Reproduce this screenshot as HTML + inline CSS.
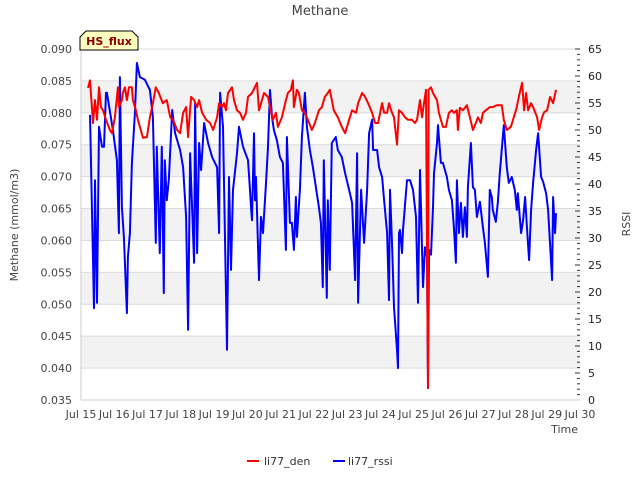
<!DOCTYPE html>
<html><head><meta charset="utf-8"><style>
body{margin:0;background:#fff;}
svg{display:block;font-family:"DejaVu Sans","Liberation Sans",sans-serif;}
</style></head><body>
<svg id="c" width="640" height="480">
<text x="320" y="15" text-anchor="middle" font-size="13" fill="#444">Methane</text>
<text transform="translate(18,225) rotate(-90)" text-anchor="middle" font-size="11" fill="#444">Methane (mmol/m3)</text>
<text transform="translate(630,224) rotate(-90)" text-anchor="middle" font-size="11" fill="#444">RSSI</text>
<text x="578" y="433" text-anchor="end" font-size="11" fill="#444">Time</text>
<g id="grid"></g>
<g id="axes"></g>
<g id="series"></g>
<g>
<path d="M86,31 L132,31 L138,37 L138,50 L80,50 L80,37 Z" fill="#ffffc0" stroke="#000" stroke-width="1"/>
<text x="109" y="45" text-anchor="middle" font-size="11" font-weight="bold" fill="#8b0000">HS_flux</text>
</g>
<g>
<g><line x1="247" y1="461" x2="259" y2="461" stroke="#f00" stroke-width="2"/><text x="264" y="465" font-size="11" fill="#333">li77_den</text></g>
<g><line x1="333" y1="461" x2="345" y2="461" stroke="#00f" stroke-width="2"/><text x="348" y="465" font-size="11" fill="#333">li77_rssi</text></g>
</g>
</svg>
<script>
const xTickLabels=["Jul 15","Jul 16","Jul 17","Jul 18","Jul 19","Jul 20","Jul 21","Jul 22","Jul 23","Jul 24","Jul 25","Jul 26","Jul 27","Jul 28","Jul 29","Jul 30"];
const yTicks=[0.035,0.040,0.045,0.050,0.055,0.060,0.065,0.070,0.075,0.080,0.085,0.090];
const y2Ticks=[0,5,10,15,20,25,30,35,40,45,50,55,60,65];
const denDays=[0.21,0.27,0.36,0.42,0.48,0.54,0.60,0.66,0.75,0.87,0.93,1.02,1.11,1.14,1.23,1.26,1.32,1.38,1.44,1.53,1.56,1.65,1.71,1.86,1.98,2.07,2.16,2.25,2.34,2.46,2.58,2.68,2.77,2.89,2.98,3.07,3.16,3.22,3.31,3.40,3.49,3.55,3.64,3.76,3.88,3.97,4.09,4.15,4.24,4.30,4.36,4.42,4.54,4.60,4.69,4.78,4.87,4.96,5.02,5.14,5.29,5.35,5.44,5.50,5.62,5.68,5.77,5.86,5.92,6.04,6.16,6.22,6.31,6.37,6.40,6.49,6.55,6.64,6.73,6.82,6.94,7.03,7.15,7.24,7.33,7.42,7.48,7.54,7.60,7.72,7.84,7.94,8.06,8.15,8.27,8.33,8.45,8.54,8.63,8.75,8.84,8.93,9.05,9.11,9.20,9.26,9.35,9.41,9.50,9.56,9.65,9.74,9.83,9.95,10.04,10.10,10.19,10.25,10.31,10.37,10.40,10.43,10.45,10.52,10.58,10.70,10.76,10.88,10.97,11.06,11.15,11.21,11.30,11.33,11.39,11.48,11.60,11.69,11.78,11.87,11.93,12.02,12.08,12.17,12.29,12.38,12.50,12.65,12.71,12.80,12.92,13.01,13.10,13.16,13.26,13.32,13.38,13.44,13.53,13.59,13.71,13.77,13.86,13.92,14.01,14.10,14.19,14.28];
const denValues=[.0839,.0851,.0784,.0820,.0789,.0840,.0809,.0804,.0789,.0773,.0768,.0793,.0840,.0809,.0820,.0831,.0840,.0820,.0840,.0840,.0820,.0804,.0789,.0761,.0762,.0793,.0815,.0840,.0831,.0815,.0820,.0793,.0789,.0773,.0768,.0800,.0809,.0762,.0825,.0820,.0809,.0820,.0800,.0789,.0784,.0773,.0793,.0815,.0809,.0815,.0804,.0831,.0840,.0820,.0804,.0800,.0789,.0800,.0825,.0831,.0847,.0804,.0820,.0831,.0825,.0809,.0789,.0800,.0778,.0793,.0820,.0831,.0836,.0851,.0809,.0836,.0831,.0804,.0800,.0789,.0773,.0784,.0804,.0809,.0825,.0831,.0836,.0820,.0804,.0793,.0778,.0768,.0789,.0804,.0800,.0815,.0831,.0825,.0815,.0800,.0784,.0784,.0815,.0800,.0800,.0815,.0800,.0793,.0750,.0804,.0800,.0793,.0789,.0789,.0784,.0789,.0820,.0793,.0815,.0836,.0585,.0369,.0836,.0840,.0831,.0820,.0800,.0778,.0778,.0800,.0804,.0800,.0804,.0773,.0808,.0804,.0812,.0793,.0773,.0784,.0793,.0784,.0800,.0804,.0809,.0809,.0812,.0812,.0789,.0773,.0778,.0793,.0809,.0825,.0847,.0804,.0831,.0804,.0815,.0809,.0793,.0773,.0793,.0801,.0804,.0825,.0815,.0836];
const rssiDays=[0.27,0.39,0.42,0.48,0.54,0.63,0.69,0.75,0.78,0.96,1.08,1.14,1.17,1.23,1.29,1.38,1.41,1.47,1.53,1.62,1.68,1.77,1.92,2.07,2.16,2.25,2.28,2.37,2.43,2.49,2.52,2.58,2.64,2.74,2.83,2.98,3.07,3.16,3.22,3.28,3.40,3.43,3.49,3.55,3.61,3.70,3.82,3.94,4.09,4.15,4.18,4.27,4.39,4.45,4.51,4.57,4.69,4.75,4.87,5.02,5.08,5.11,5.14,5.20,5.23,5.26,5.35,5.41,5.47,5.56,5.62,5.68,5.74,5.80,5.89,5.98,6.07,6.16,6.19,6.28,6.34,6.40,6.46,6.49,6.58,6.64,6.73,6.79,6.88,6.97,7.06,7.15,7.21,7.27,7.30,7.39,7.42,7.48,7.54,7.66,7.72,7.84,7.94,8.06,8.15,8.24,8.30,8.33,8.42,8.51,8.60,8.66,8.75,8.78,8.90,8.96,9.05,9.11,9.20,9.26,9.29,9.35,9.41,9.50,9.53,9.56,9.59,9.65,9.68,9.80,9.89,9.98,10.07,10.13,10.19,10.28,10.34,10.40,10.43,10.46,10.52,10.58,10.61,10.70,10.73,10.82,10.88,11.00,11.06,11.15,11.21,11.27,11.30,11.36,11.42,11.48,11.54,11.60,11.63,11.72,11.78,11.84,11.90,11.99,12.08,12.14,12.23,12.29,12.35,12.38,12.47,12.53,12.59,12.68,12.71,12.80,12.86,12.95,13.04,13.10,13.13,13.23,13.29,13.35,13.41,13.47,13.53,13.59,13.68,13.74,13.83,13.89,13.98,14.04,14.16,14.19,14.25,14.28];
const rssiValues=[52.8,17.0,40.7,18.0,50.6,46.9,46.9,56.9,56.9,50.0,44.4,30.9,59.8,35.7,30.2,16.1,26.5,30.9,43.9,53.1,62.4,59.8,59.3,57.4,52.4,29.1,46.9,27.2,46.9,19.8,44.4,37.0,40.7,53.7,49.4,46.3,43.1,33.9,13.0,45.7,25.4,55.0,27.2,47.6,42.6,51.3,47.6,45.0,43.1,30.9,56.9,50.6,9.3,41.3,24.1,38.9,45.7,50.6,46.9,44.4,38.9,35.7,33.3,49.4,37.0,41.3,22.2,33.9,30.9,40.2,46.9,57.4,52.4,50.0,48.1,45.0,43.9,27.8,48.7,32.8,32.8,27.8,37.6,30.2,38.9,48.7,56.9,50.6,46.3,43.1,39.4,35.7,32.8,20.9,44.4,18.9,37.0,24.1,47.6,48.7,46.3,45.0,42.0,38.9,36.5,22.2,45.7,18.0,38.9,29.1,38.9,49.4,51.9,46.3,46.3,43.1,41.3,37.0,30.9,18.5,38.9,29.1,17.2,9.3,5.9,30.9,31.5,27.2,31.5,40.7,40.7,38.9,33.9,18.0,42.6,20.9,28.3,26.5,2.2,27.8,26.9,35.7,42.0,47.6,50.9,43.9,43.9,41.3,38.9,37.0,32.0,25.4,40.7,30.9,36.5,30.2,35.7,30.2,39.4,47.6,39.4,38.9,33.9,36.7,32.0,29.1,22.8,38.9,37.6,35.2,33.0,36.5,42.0,48.7,50.9,43.1,40.2,41.3,38.9,35.2,38.3,30.9,33.3,37.6,31.5,25.9,35.2,40.2,46.3,49.4,41.3,40.4,38.3,35.2,22.2,37.6,30.9,34.6];

const NS="http://www.w3.org/2000/svg";
const X0=81,X1=580,Y0=49,Y1=400;
const xs=d=>X0+(X1-X0)*d/15;
const ys=v=>Y1-(Y1-Y0)*(v-0.035)/0.055;
const y2s=v=>Y1-(Y1-Y0)*v/65;
function mk(tag,attrs,parent){const e=document.createElementNS(NS,tag);for(const k in attrs)e.setAttribute(k,attrs[k]);parent.appendChild(e);return e;}
const grid=document.getElementById('grid'),axes=document.getElementById('axes'),series=document.getElementById('series');
for(let i=0;i<yTicks.length-1;i++){
  if(i%2===1){const r=mk('rect',{x:X0,y:ys(yTicks[i+1]),width:X1-X0,height:ys(yTicks[i])-ys(yTicks[i+1]),fill:'#f2f2f2'},grid);
  
  }
}
yTicks.forEach(v=>{
  const y=ys(v);
  const l=mk('line',{x1:X0,x2:X1,y1:y,y2:y,stroke:'#dcdcdc','stroke-width':1},grid);
  
  
  const t=mk('text',{x:72,y:y+4,'text-anchor':'end','font-size':11,fill:'#444'},axes);
  t.textContent=v.toFixed(3);
  
  
});
for(let v=0;v<=65;v++){
  const y=y2s(v);
  mk('line',{x1:X1,x2:X1-(v%5===0?5:3),y1:y,y2:y,stroke:'#333','stroke-width':1},axes);
}
y2Ticks.forEach(v=>{
  const t=mk('text',{x:588,y:y2s(v)+4,'font-size':11,fill:'#222'},axes);
  t.textContent=v;
  
  
});
xTickLabels.forEach((s,i)=>{
  const t=mk('text',{x:xs(i),y:418,'text-anchor':'middle','font-size':11,fill:'#444'},axes);
  t.textContent=s;
  
  
});
mk('line',{x1:X0,x2:X0,y1:Y0,y2:Y1,stroke:'#ccc'},axes);
mk('line',{x1:X0,x2:X1,y1:Y1,y2:Y1,stroke:'#ccc'},axes);
const pb=mk('polyline',{points:rssiDays.map((d,i)=>xs(d).toFixed(1)+','+y2s(rssiValues[i]).toFixed(1)).join(' '),fill:'none',stroke:'#0000ff','stroke-width':2,'stroke-linejoin':'round'},series);


const pr=mk('polyline',{points:denDays.map((d,i)=>xs(d).toFixed(1)+','+ys(denValues[i]).toFixed(1)).join(' '),fill:'none',stroke:'#ff0000','stroke-width':2,'stroke-linejoin':'round'},series);


</script>
</body></html>
